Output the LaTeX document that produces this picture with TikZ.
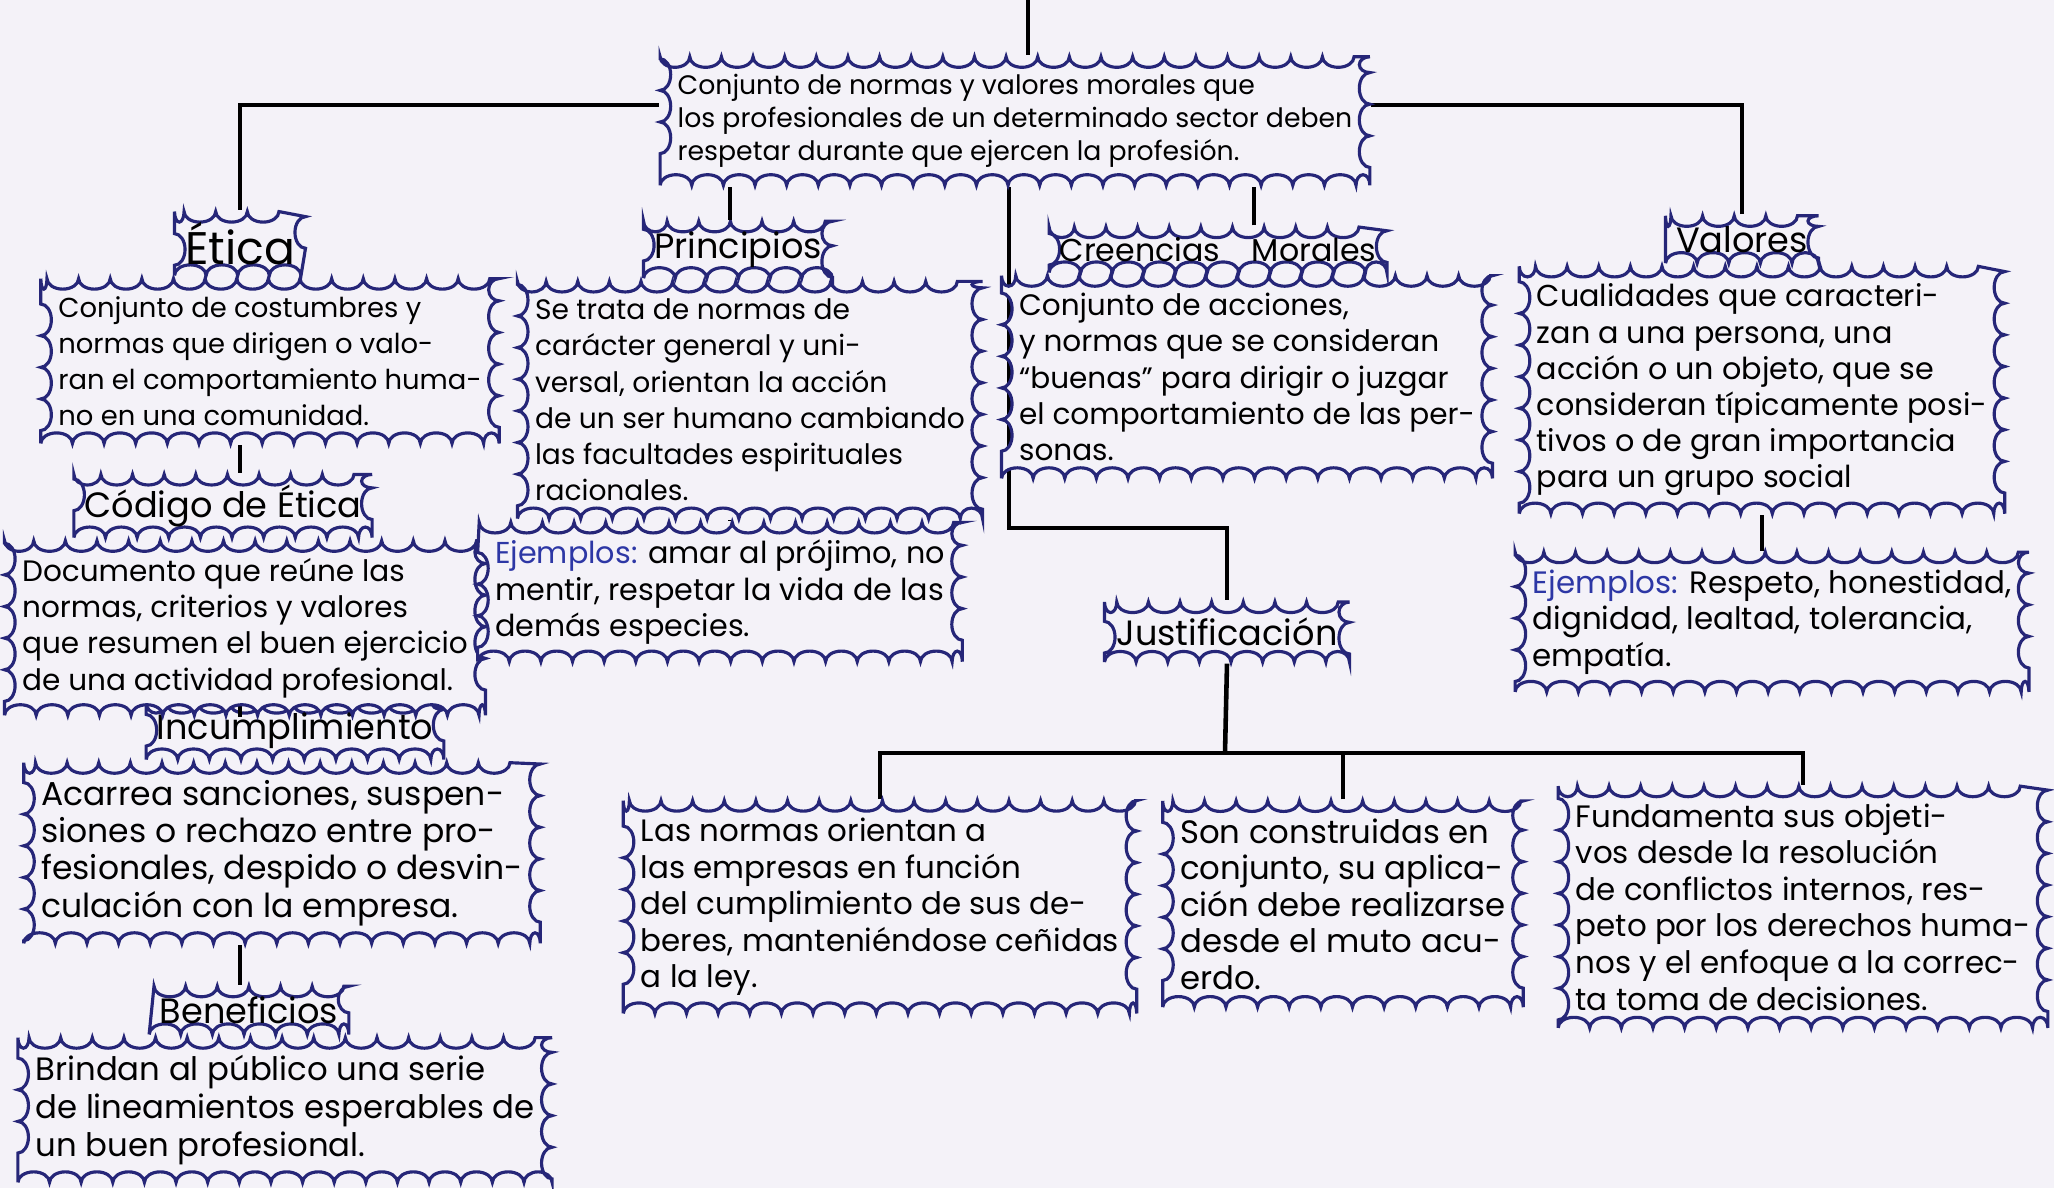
\documentclass[tikz,border=0pt]{standalone}
\usepackage{fontspec}
\setmainfont{Poppins}
\usetikzlibrary{decorations,backgrounds,positioning}
\definecolor{paper}{RGB}{244,242,248}
\definecolor{ink}{RGB}{38,38,120}
\definecolor{exblue}{RGB}{45,55,165}
% scalloped border for the clouds (shorter scallop before a corner)
\pgfdeclaredecoration{scallops}{initial}{
  \state{initial}[width=\pgfdecorationsegmentlength]{
    \pgfpathlineto{\pgfpointorigin}
    \ifdim\pgfdecoratedinputsegmentremainingdistance<\pgfdecorationsegmentlength
      \ifdim\pgfdecoratedinputsegmentremainingdistance>1.5pt
        \pgfmathsetlengthmacro\scallopr{0.5*\pgfdecoratedinputsegmentremainingdistance}
        \pgfpatharc{180}{0}{\scallopr and \pgfdecorationsegmentamplitude}
      \fi
    \else
      \pgfpatharc{180}{0}{0.5\pgfdecorationsegmentlength and \pgfdecorationsegmentamplitude}
    \fi
  }
  \state{final}{
    \pgfpathlineto{\pgfpointdecoratedpathlast}
  }
}
\tikzset{
    cloud-box/.style = {draw=ink, fill=paper, line width=0.9pt, rectangle, inner sep=5pt, align=left, font=\fontsize{8}{10.3}\selectfont, decorate, decoration={scallops, segment length=9pt, amplitude=3pt}},
    cloud-title/.style = {cloud-box, align=center, inner sep=3pt, font=\fontsize{10}{12}\selectfont},
    link/.style = {draw=black, line width=1.3pt},
}
\newcommand{\ej}{{\color{exblue}Ejemplos:}}

\begin{document}
\begin{tikzpicture}
\begin{scope}[on background layer]
\fill[paper] (0,0) rectangle (20.54,-11.88);
\end{scope}
\useasboundingbox (0,0) rectangle (20.54,-11.88);

% root
\node [cloud-box, minimum width=6.6cm, minimum height=1.15cm, font=\fontsize{7.6}{9.4}\selectfont] (root) at (10.15,-1.21) {Conjunto de normas y valores morales que\\ los profesionales de un determinado sector deben\\ respetar durante que ejercen la profesión.};

% left column
\node [cloud-box, minimum width=4.1cm, minimum height=1.5cm, font=\fontsize{7.8}{10.3}\selectfont] (etica) at (2.7,-3.61) {Conjunto de costumbres y\\ normas que dirigen o valo-\\ ran el comportamiento huma-\\ no en una comunidad.};
\node [cloud-box, minimum width=4.5cm, minimum height=1.5cm, font=\fontsize{8.4}{10.3}\selectfont] (codigo) at (2.45,-6.28) {Documento que reúne las\\ normas, criterios y valores\\ que resumen el buen ejercicio\\ de una actividad profesional.};
\node [cloud-box, minimum width=5.1cm, minimum height=1.55cm, font=\fontsize{9.4}{10.6}\selectfont] (incump) at (2.82,-8.53) {Acarrea sanciones, suspen-\\ siones o rechazo entre pro-\\ fesionales, despido o desvin-\\ culación con la empresa.};
\node [cloud-box, minimum width=5.0cm, minimum height=1.3cm, font=\fontsize{9.2}{10.8}\selectfont] (benef) at (2.85,-11.1) {Brindan al público una serie\\ de lineamientos esperables de\\ un buen profesional.};

% principios
\node [cloud-box, minimum width=4.2cm, minimum height=2.25cm] (princ) at (7.5,-4.0) {Se trata de normas de\\ carácter general y uni-\\ versal, orientan la acción\\ de un ser humano cambiando\\ las facultades espirituales\\ racionales.};
\node [cloud-box, minimum width=4.5cm, minimum height=1.0cm, font=\fontsize{8.6}{10.3}\selectfont] (ejprinc) at (7.2,-5.92) {\ej{} amar al prójimo, no\\ mentir, respetar la vida de las\\ demás especies.};

% creencias y valores
\node [cloud-box, minimum width=4.25cm, minimum height=1.8cm, font=\fontsize{8.4}{10.3}\selectfont] (creen) at (12.47,-3.77) {Conjunto de acciones,\\ y normas que se consideran\\ “buenas” para dirigir o juzgar\\ el comportamiento de las per-\\ sonas.};
\node [cloud-box, minimum width=4.7cm, minimum height=2.15cm, font=\fontsize{8.6}{10.3}\selectfont] (valor) at (17.62,-3.9) {Cualidades que caracteri-\\ zan a una persona, una\\ acción o un objeto, que se\\ consideran típicamente posi-\\ tivos o de gran importancia\\ para un grupo social};
\node [cloud-box, minimum width=4.9cm, minimum height=1.2cm, font=\fontsize{8.8}{10.4}\selectfont] (ejval) at (17.72,-6.22) {\ej{} Respeto, honestidad,\\ dignidad, lealtad, tolerancia,\\ empatía.};

% justificacion
\node [cloud-title, minimum width=2.45cm, minimum height=0.6cm] (just) at (12.27,-6.32) {Justificación};
\node [cloud-box, minimum width=4.8cm, minimum height=1.9cm, font=\fontsize{8.8}{10.4}\selectfont] (normas) at (8.8,-9.07) {Las normas orientan a\\ las empresas en función\\ del cumplimiento de sus de-\\ beres, manteniéndose ceñidas\\ a la ley.};
\node [cloud-box, minimum width=3.4cm, minimum height=2.0cm, font=\fontsize{9.2}{10.4}\selectfont] (son) at (13.43,-9.04) {Son construidas en\\ conjunto, su aplica-\\ ción debe realizarse\\ desde el muto acu-\\ erdo.};
\node [cloud-box, minimum width=4.6cm, minimum height=2.3cm, font=\fontsize{8.8}{10.4}\selectfont] (fund) at (18.03,-9.07) {Fundamenta sus objeti-\\ vos desde la resolución\\ de conflictos internos, res-\\ peto por los derechos huma-\\ nos y el enfoque a la correc-\\ ta toma de decisiones.};

% titles sit behind the boxes
\begin{scope}[on background layer]
\node [cloud-title, above=0pt of etica.north, xshift=-0.3cm, font=\fontsize{13}{14}\selectfont] (tetica) {Ética};
\node [cloud-title, above=0pt of codigo.north, xshift=-0.22cm] (tcodigo) {Código de Ética};
\node [cloud-title, above=0pt of incump.north, xshift=0.13cm] (tincump) {Incumplimiento};
\node [cloud-title, above=0pt of benef.north, xshift=-0.36cm] (tbenef) {Beneficios};
\node [cloud-title, above=0pt of princ.north, xshift=-0.12cm] (tprinc) {Principios};
\node [cloud-title, above=0pt of creen.north, xshift=-0.29cm, font=\fontsize{9}{11}\selectfont] (tcreen) {Creencias\quad Morales};
\node [cloud-title, above=0pt of valor.north, xshift=-0.2cm] (tvalor) {Valores};
\end{scope}

% connectors
\coordinate (top) at (10.28,0);
\coordinate (hl) at (0,-1.05);
\coordinate (lx) at (2.4,0);
\coordinate (px) at (7.3,0);
\coordinate (turn) at (10.09,-5.28);
\coordinate (bus) at (12.25,-7.53);
\begin{scope}[on background layer]
\draw[link] (top) -- (root.north -| top);
\draw[link] (tetica.north -| lx) |- (root.west |- hl);
\draw[link] (tvalor.north) |- (root.east |- hl);
\draw[link] (tprinc.north -| px) -- (root.south -| px);
\draw[link] (tcreen.north) ++(0.36,0) coordinate (c) -- (c |- root.south);
\draw[link] (etica.south -| lx) -- (tcodigo.north -| lx);
\draw[link] (codigo.south -| lx) -- (tincump.north -| lx);
\draw[link] (incump.south -| lx) -- (tbenef.north -| lx);
\draw[link] (princ.south -| px) -- (ejprinc.north -| px);
\draw[link] (valor.south) -- (valor.south |- ejval.north);
\draw[link] (root.south -| turn) -- (turn) -| (just.north);
\draw[link] (just.south) -- (bus);
\draw[link] (normas.north) |- (bus) -| (fund.north);
\draw[link] (son.north) -- (son.north |- bus);
\end{scope}
\end{tikzpicture}
\end{document}
